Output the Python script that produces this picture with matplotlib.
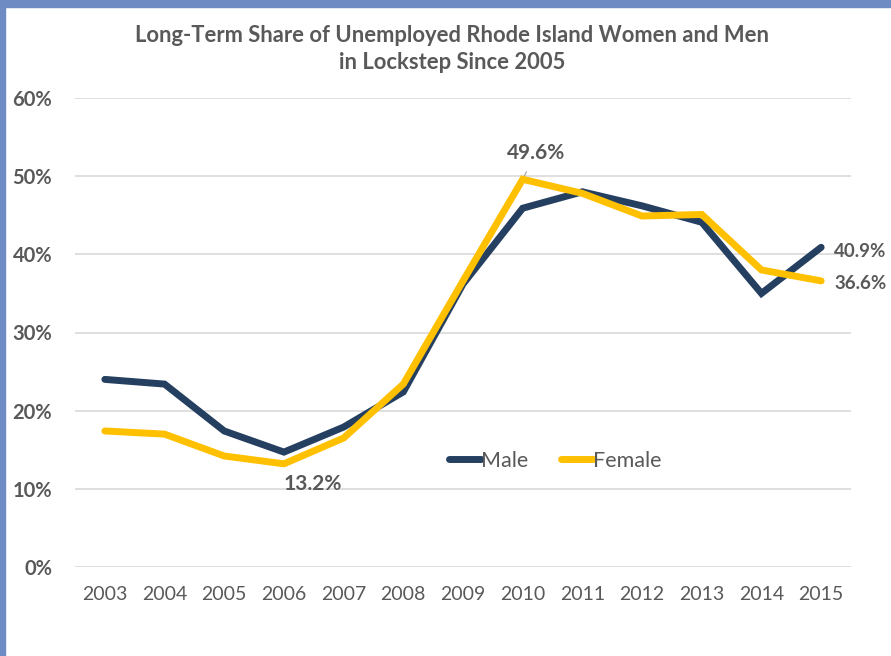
import matplotlib
matplotlib.use("Agg")
import matplotlib.pyplot as plt
from matplotlib.patches import Rectangle

years = ["2003", "2004", "2005", "2006", "2007", "2008", "2009",
         "2010", "2011", "2012", "2013", "2014", "2015"]
male = [24.0, 23.4, 17.4, 14.7, 17.9, 22.4, 36.2, 45.9, 48.0, 46.2, 44.1, 35.0, 40.9]
female = [17.4, 17.0, 14.2, 13.2, 16.5, 23.4, 36.6, 49.6, 47.8, 44.9, 45.1, 38.0, 36.6]
yticks = [0, 10, 20, 30, 40, 50, 60]

NAVY = "#243F60"
GOLD = "#FFC000"
GRAY = "#595959"
FONT = "Lato"

fig = plt.figure(figsize=(8.91, 6.56), dpi=100)
ax = fig.add_axes([75 / 891, 1 - 567 / 656, 776 / 891, 469 / 656])

x = list(range(len(years)))
ax.plot(x, male, color=NAVY, lw=5.0, solid_joinstyle="miter", solid_capstyle="round",
        label="Male", zorder=3)
ax.plot(x, female, color=GOLD, lw=5.0, solid_joinstyle="miter", solid_capstyle="round",
        label="Female", zorder=4)

ax.set_xlim(-0.5, len(years) - 0.5)
ax.set_ylim(0, 60)
ax.set_xticks(x)
ax.set_xticklabels(years, fontsize=14, color=GRAY, family=FONT)
ax.set_yticks(yticks)
ax.set_yticklabels([f"{v}%" for v in yticks], fontsize=14.5, color=GRAY,
                   family=FONT, fontweight="bold")
ax.tick_params(axis="both", length=0)
ax.tick_params(axis="y", pad=16.5)
ax.tick_params(axis="x", pad=14)
ax.grid(axis="y", color="#D9D9D9", lw=1.2)
ax.set_axisbelow(True)
for s in ax.spines.values():
    s.set_visible(False)

# value labels
i10 = years.index("2010")
ax.annotate(f"{female[i10]:.1f}%", xy=(i10, female[i10]), xytext=(i10 + 0.22, 53.0),
            ha="center", va="center", fontsize=15, fontweight="bold", color=GRAY,
            family=FONT,
            arrowprops=dict(arrowstyle="-", color="#A6A6A6", lw=0.9, shrinkA=5, shrinkB=1))
i06 = years.index("2006")
ax.text(i06 + 0.48, 10.6, f"{female[i06]:.1f}%", ha="center", va="center", fontsize=15,
        fontweight="bold", color=GRAY, family=FONT)
last = len(years) - 1
ax.text(last + 0.22, 40.4, f"{male[last]:.1f}%", ha="left", va="center",
        fontsize=13.5, fontweight="bold", color=GRAY, family=FONT)
ax.text(last + 0.22, 36.3, f"{female[last]:.1f}%", ha="left", va="center",
        fontsize=13.5, fontweight="bold", color=GRAY, family=FONT)

leg = ax.legend(loc="center", bbox_to_anchor=(555 / 891, 1 - 461 / 656),
                bbox_transform=fig.transFigure, ncol=2, frameon=False,
                handlelength=1.5, handletextpad=0.0, columnspacing=1.5,
                prop={"family": FONT, "size": 15.5})
for t in leg.get_texts():
    t.set_color(GRAY)

fig.text(452 / 891, 1 - 49 / 656,
         "Long-Term Share of Unemployed Rhode Island Women and Men\nin Lockstep Since 2005",
         ha="center", va="center", fontsize=15.8, fontweight="bold", color=GRAY,
         family=FONT, linespacing=1.4)

# page frame
BLUE = "#6E8BC3"
fig.patches.append(Rectangle((0, 0), 5 / 891, 1, transform=fig.transFigure,
                             color=BLUE, zorder=10))
fig.patches.append(Rectangle((0, 1 - 7 / 656), 1, 7 / 656, transform=fig.transFigure,
                             color=BLUE, zorder=10))

fig.savefig("out.png", dpi=100)
